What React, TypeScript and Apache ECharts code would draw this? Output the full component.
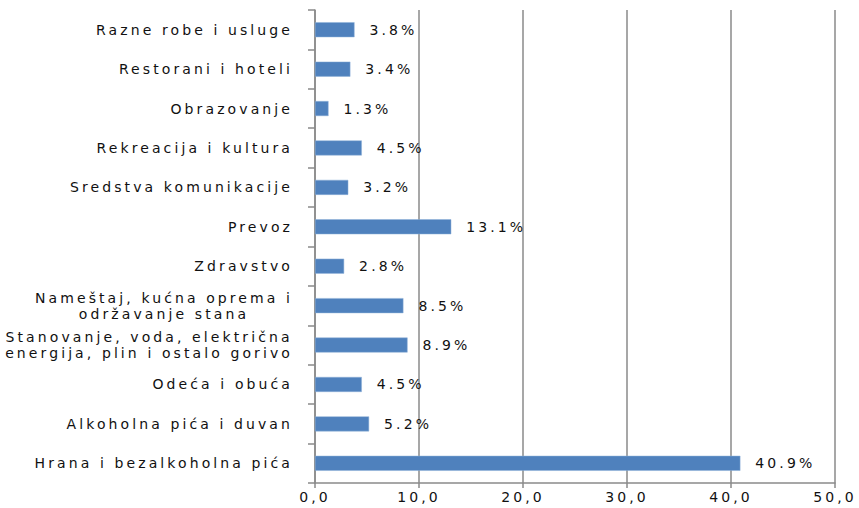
import React, { useEffect, useRef } from "react";
import * as echarts from "echarts";

const categories = [
  "Hrana i bezalkoholna pića",
  "Alkoholna pića i duvan",
  "Odeća i obuća",
  "Stanovanje, voda, električna\nenergija, plin i ostalo gorivo",
  "Nameštaj, kućna oprema i\nodržavanje stana",
  "Zdravstvo",
  "Prevoz",
  "Sredstva komunikacije",
  "Rekreacija i kultura",
  "Obrazovanje",
  "Restorani i hoteli",
  "Razne robe i usluge",
];
const values = [40.9, 5.2, 4.5, 8.9, 8.5, 2.8, 13.1, 3.2, 4.5, 1.3, 3.4, 3.8];

const FONT_SIZE = 14;
const FONT_FAMILY = "DejaVu Sans";
const LETTER_SPACING = 3.1;
const TEXT_COLOR = "#111111";
const GRID_COLOR = "#8a8a8a";

function measure(text: string): number {
  const c = document.createElement("canvas");
  const ctx = c.getContext("2d");
  if (!ctx) return text.length * 8;
  ctx.font = `${FONT_SIZE}px "${FONT_FAMILY}"`;
  return ctx.measureText(text).width + LETTER_SPACING * text.length;
}

export default function App() {
  const ref = useRef<HTMLDivElement>(null);
  useEffect(() => {
    if (!ref.current) return;
    const chart = echarts.init(ref.current, null, { renderer: "svg" });

    const rich: Record<string, any> = {};
    categories.forEach((c, i) => {
      if (c.includes("\n")) {
        const w = Math.max(...c.split("\n").map(measure));
        rich["m" + i] = {
          width: w,
          align: "center",
          fontSize: FONT_SIZE,
          fontFamily: FONT_FAMILY,
          color: TEXT_COLOR,
          lineHeight: 16,
        };
      }
    });

    chart.setOption({
      animation: false,
      grid: { left: 315, right: 24, top: 10, bottom: 25, containLabel: false },
      xAxis: {
        type: "value",
        min: 0,
        max: 50,
        interval: 10,
        axisLine: { show: true, lineStyle: { color: GRID_COLOR, width: 1.5 } },
        axisTick: { show: true, length: 5, lineStyle: { color: GRID_COLOR, width: 1.5 } },
        splitLine: { show: true, lineStyle: { color: GRID_COLOR, width: 1.5 } },
        axisLabel: {
          margin: 7,
          fontSize: FONT_SIZE,
          fontFamily: FONT_FAMILY,
          color: TEXT_COLOR,
          formatter: (v: number) => v.toFixed(1).replace(".", ","),
        },
      },
      yAxis: {
        type: "category",
        data: categories,
        axisLine: { show: true, lineStyle: { color: GRID_COLOR, width: 1.5 } },
        axisTick: { show: true, length: 7, alignWithLabel: false, lineStyle: { color: GRID_COLOR, width: 1.5 } },
        splitLine: { show: false },
        axisLabel: {
          margin: 22,
          fontSize: FONT_SIZE,
          fontFamily: FONT_FAMILY,
          color: TEXT_COLOR,
          lineHeight: 16,
          formatter: (v: string) => {
            const i = categories.indexOf(v);
            if (v.includes("\n")) {
              return v
                .split("\n")
                .map((l) => `{m${i}|${l}}`)
                .join("\n");
            }
            return v;
          },
          rich,
        },
      },
      series: [
        {
          type: "bar",
          data: values,
          barWidth: 15,
          itemStyle: { color: "#4F81BD", borderColor: "#8fb0d8", borderWidth: 0.5 },
          label: {
            show: true,
            position: "right",
            distance: 15,
            fontSize: FONT_SIZE,
            fontFamily: FONT_FAMILY,
            color: TEXT_COLOR,
            formatter: (p: any) => `${Number(p.value).toFixed(1)}%`,
          },
        },
      ],
    });
    return () => chart.dispose();
  }, []);
  return (
    <div
      ref={ref}
      style={{
        position: "fixed",
        left: 0,
        top: 0,
        width: 859,
        height: 508,
        background: "#fff",
        letterSpacing: `${LETTER_SPACING}px`,
      }}
    />
  );
}
